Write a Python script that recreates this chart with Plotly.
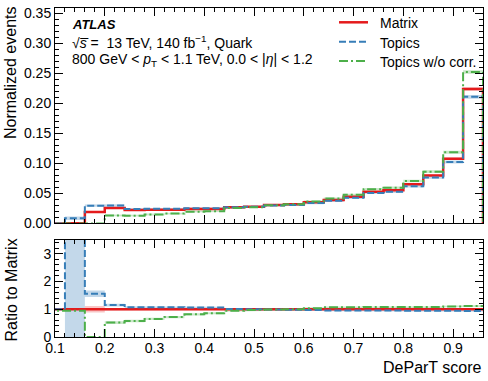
import plotly.graph_objects as go
from plotly.subplots import make_subplots

RED = "#e41a1c"
BLUE = "#377eb8"
GREEN = "#4daf4a"
RED_BAND = "rgba(228,26,28,0.25)"
BLUE_BAND = "rgba(55,126,184,0.3)"
GREEN_BAND = "rgba(77,175,74,0.3)"
FONT = "Liberation Sans, Arial, sans-serif"

# DeParT score bin edges (first bin is cut by the axis at 0.1)
bin_edges = [0.08, 0.12, 0.16, 0.20, 0.24, 0.28, 0.32, 0.36, 0.40, 0.44, 0.48, 0.52,
             0.56, 0.60, 0.64, 0.68, 0.72, 0.76, 0.80, 0.84, 0.88, 0.92, 0.96]

# normalized events per bin
matrix = [0.0, 0.0005, 0.019, 0.026, 0.0225, 0.023, 0.023, 0.024, 0.024, 0.027, 0.028,
          0.0308, 0.032, 0.0353, 0.039, 0.0447, 0.053, 0.0552, 0.0655, 0.080, 0.108, 0.224]
topics = [0.0, 0.0087, 0.0297, 0.030, 0.024, 0.0245, 0.0245, 0.0255, 0.0255, 0.0272, 0.028,
          0.030, 0.031, 0.034, 0.0378, 0.0428, 0.051, 0.053, 0.062, 0.0765, 0.1025, 0.211]
topics_nocorr = [0.0, 0.0, 0.0, 0.0135, 0.013, 0.015, 0.0166, 0.0197, 0.0206, 0.0257, 0.0272,
                 0.0305, 0.032, 0.0367, 0.0417, 0.0478, 0.0572, 0.0596, 0.0707, 0.0864, 0.1187, 0.2525]

# uncertainties on the normalized distributions
matrix_err = [0.0, 0.0004, 0.0015, 0.0012, 0.001, 0.001, 0.001, 0.001, 0.001, 0.001, 0.001,
              0.001, 0.001, 0.001, 0.0012, 0.0012, 0.0012, 0.0012, 0.0013, 0.0015, 0.0018, 0.003]
topics_err = [0.0, 0.003, 0.002, 0.002, 0.0015, 0.0015, 0.0015, 0.0015, 0.0015, 0.0015, 0.0015,
              0.0015, 0.0015, 0.0018, 0.0018, 0.0018, 0.002, 0.002, 0.002, 0.002, 0.0025, 0.003]
nocorr_err = [0.0, 0.0, 0.0, 0.0015, 0.0015, 0.0015, 0.0015, 0.0015, 0.0015, 0.0015, 0.0015,
              0.0015, 0.0015, 0.0018, 0.0018, 0.0018, 0.002, 0.002, 0.002, 0.0022, 0.0025, 0.003]

# ratio to Matrix
ratio_matrix = [1.0, 1.0, 1.0, 1.0, 1.0, 1.0, 1.0, 1.0, 1.0, 1.0, 1.0,
                1.0, 1.0, 1.0, 1.0, 1.0, 1.0, 1.0, 1.0, 1.0, 1.0, 1.0]
ratio_topics = [1.0, 17.4, 1.56, 1.15, 1.07, 1.07, 1.07, 1.06, 1.06, 1.01, 1.0,
                0.99, 0.98, 0.97, 0.96, 0.96, 0.96, 0.96, 0.95, 0.95, 0.95, 0.94]
ratio_nocorr = [0.95, 0.95, 0.0, 0.52, 0.58, 0.65, 0.72, 0.82, 0.86, 0.95, 0.97,
                0.99, 1.0, 1.04, 1.07, 1.07, 1.08, 1.08, 1.08, 1.08, 1.10, 1.12]
ratio_matrix_err = [0.0, 0.0, 0.12, 0.04, 0.03, 0.03, 0.03, 0.025, 0.025, 0.02, 0.02,
                    0.02, 0.02, 0.02, 0.02, 0.02, 0.02, 0.02, 0.02, 0.02, 0.02, 0.02]
ratio_topics_err = [0.0, 20.0, 0.12, 0.05, 0.04, 0.035, 0.035, 0.03, 0.03, 0.03, 0.03,
                    0.03, 0.03, 0.03, 0.03, 0.03, 0.03, 0.03, 0.03, 0.03, 0.03, 0.03]
ratio_nocorr_err = [0.0, 0.0, 0.0, 0.05, 0.045, 0.04, 0.04, 0.04, 0.035, 0.035, 0.03,
                    0.03, 0.03, 0.03, 0.03, 0.03, 0.03, 0.03, 0.03, 0.03, 0.03, 0.035]

W, H = 488, 381
L, R, T, B = 55, 5, 8, 44
PW, PH = W - L - R, H - T - B


def px_x(px):
    return (px - L) / PW


def px_y(py):
    return (H - B - py) / PH


def band_polygon(edges, vals, errs):
    xs, up, lo = [], [], []
    for i, v in enumerate(vals):
        xs += [edges[i], edges[i + 1]]
        up += [v + errs[i]] * 2
        lo += [v - errs[i]] * 2
    return xs + xs[::-1], up + lo[::-1]


fig = make_subplots(rows=2, cols=1, shared_xaxes=True)

series = [
    ("Matrix", matrix, matrix_err, ratio_matrix, ratio_matrix_err, RED, RED_BAND, "solid", 2.5),
    ("Topics", topics, topics_err, ratio_topics, ratio_topics_err, BLUE, BLUE_BAND, "7px,3px", 2),
    ("Topics w/o corr.", topics_nocorr, nocorr_err, ratio_nocorr, ratio_nocorr_err, GREEN, GREEN_BAND,
     "9px,3px,2px,3px", 2),
]

# uncertainty bands
for name, vals, errs, rvals, rerrs, col, band, dash, w in series:
    bx, by = band_polygon(bin_edges, vals, errs)
    fig.add_trace(go.Scatter(x=bx, y=by, fill="toself", fillcolor=band, line=dict(width=0),
                             mode="lines", showlegend=False, hoverinfo="skip"), row=1, col=1)
    rx, ry = band_polygon(bin_edges, rvals, rerrs)
    fig.add_trace(go.Scatter(x=rx, y=ry, fill="toself", fillcolor=band, line=dict(width=0),
                             mode="lines", showlegend=False, hoverinfo="skip"), row=2, col=1)

# step histograms
for name, vals, errs, rvals, rerrs, col, band, dash, w in series:
    fig.add_trace(go.Scatter(x=bin_edges + [bin_edges[-1]], y=vals + [vals[-1], 0],
                             mode="lines", line=dict(color=col, width=w, dash=dash, shape="hv"),
                             name=name, showlegend=False), row=1, col=1)
    fig.add_trace(go.Scatter(x=bin_edges, y=rvals + [rvals[-1]],
                             mode="lines", line=dict(color=col, width=w, dash=dash, shape="hv"),
                             name=name, showlegend=False), row=2, col=1)

axis_style = dict(showline=True, linecolor="black", linewidth=1, mirror="allticks",
                  ticks="inside", ticklen=8, tickwidth=1, tickcolor="black",
                  showgrid=False, zeroline=False,
                  tickfont=dict(family=FONT, size=14, color="black"))

fig.update_xaxes(**axis_style, range=[0.1, 0.96], tick0=0.1, dtick=0.1, ticklabelstandoff=-2,
                 minor=dict(ticks="inside", ticklen=4, tickcolor="black", dtick=0.02))
fig.update_xaxes(showticklabels=False, row=1, col=1)
fig.update_xaxes(showticklabels=True, tickformat=".1f", row=2, col=1)
fig.update_yaxes(**axis_style)
fig.update_yaxes(range=[0, 0.359], dtick=0.05, tickformat=".2f", domain=[0.345, 1],
                 minor=dict(ticks="inside", ticklen=4, tickcolor="black", dtick=0.01), row=1, col=1)
fig.update_yaxes(range=[0, 3.5], dtick=1, tickformat="d", domain=[0, 0.295],
                 minor=dict(ticks="inside", ticklen=4, tickcolor="black", dtick=0.2), row=2, col=1)

txt = dict(family=FONT, size=14, color="black")
annotations = [
    dict(text="<b><i>ATLAS</i></b>", x=px_x(70), y=px_y(24), xanchor="left", yanchor="middle",
         font=dict(family=FONT, size=13, color="black")),
    dict(text="√<i>s\u0305</i> =  13 TeV, 140 fb<sup>−1</sup>, Quark",
         x=px_x(70), y=px_y(42), xanchor="left", yanchor="middle", font=txt),
    dict(text="800 GeV < <i>p</i><sub>T</sub> < 1.1 TeV, 0.0 < |<i>η</i>| < 1.2",
         x=px_x(70), y=px_y(60), xanchor="left", yanchor="middle", font=txt),
    dict(text="Normalized events", textangle=-90, x=px_x(10.5), y=px_y(4), xanchor="center",
         yanchor="top", font=dict(family=FONT, size=16, color="black")),
    dict(text="Ratio to Matrix", textangle=-90, x=px_x(11), y=px_y(237), xanchor="center",
         yanchor="top", font=dict(family=FONT, size=16, color="black")),
    dict(text="DeParT score", x=px_x(484), y=px_y(367), xanchor="right", yanchor="middle",
         font=dict(family=FONT, size=16, color="black")),
]

# legend drawn by hand so rows sit where the reference has them
legend_rows = [22.3, 41.7, 61.0]
shapes = []
for (name, vals, errs, rvals, rerrs, col, band, dash, w), row_y in zip(series, legend_rows):
    shapes.append(dict(type="line", xref="paper", yref="paper",
                       x0=px_x(339), x1=px_x(368), y0=px_y(row_y), y1=px_y(row_y),
                       line=dict(color=col, width=w, dash=dash)))
    annotations.append(dict(text=name, x=px_x(378), y=px_y(row_y + 1), xanchor="left",
                            yanchor="middle", font=txt))

for a in annotations:
    a.update(xref="paper", yref="paper", showarrow=False)

fig.update_layout(
    width=W, height=H,
    margin=dict(l=L, r=R, t=T, b=B),
    paper_bgcolor="white", plot_bgcolor="white",
    font=dict(family=FONT, size=14, color="black"),
    annotations=annotations,
    shapes=shapes,
    showlegend=False,
)

fig.write_html("out.html", config={"displayModeBar": False},
               post_script="document.body.style.margin='0px';")
